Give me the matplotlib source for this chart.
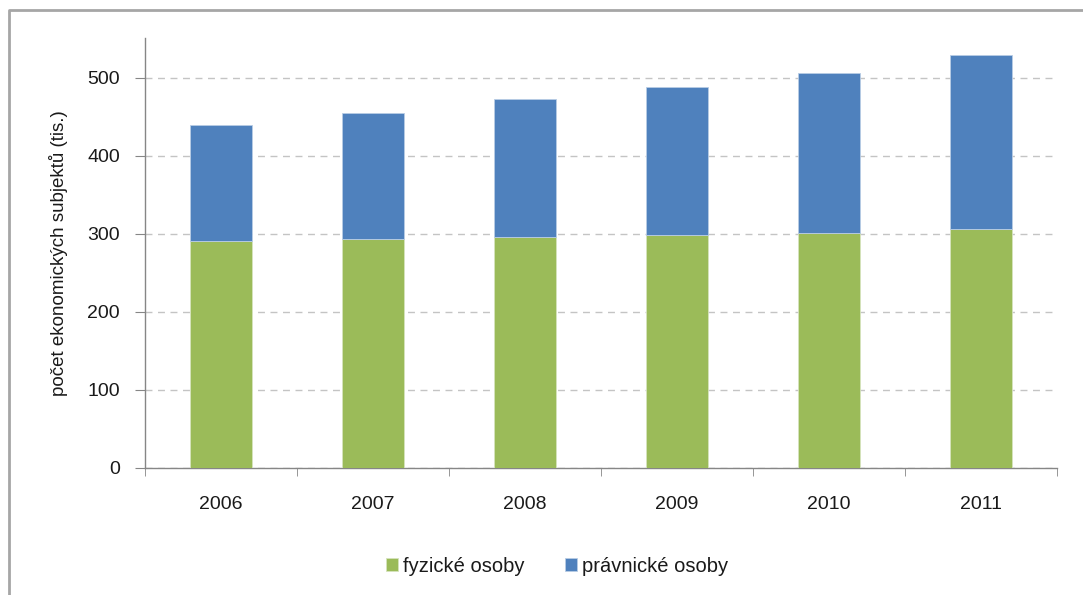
import matplotlib
matplotlib.use('Agg')
import matplotlib.pyplot as plt
from matplotlib.lines import Line2D
import numpy as np

plt.rcParams['font.family'] = ['Liberation Sans', 'DejaVu Sans']

# Values (thousands)
years = ['2006', '2007', '2008', '2009', '2010', '2011']
fyzicke = [290.6, 293.2, 295.8, 298.3, 300.9, 306.0]
pravnicke = [148.8, 161.9, 176.9, 189.7, 205.1, 223.5]

green = '#9BBB59'
blue = '#4F81BD'
axis_grey = '#868686'

fig = plt.figure(figsize=(10.83, 5.95), dpi=100)
ax = fig.add_axes([145 / 1083, 1 - 468 / 595, 912 / 1083, 430 / 595])

x = np.arange(len(years))
w = 0.41
ax.bar(x, fyzicke, width=w, color=green, edgecolor='#D6E4BD', linewidth=0.6,
       label='fyzické osoby', zorder=3)
ax.bar(x, pravnicke, width=w, bottom=fyzicke, color=blue, edgecolor='#B9CDE5',
       linewidth=0.6, label='právnické osoby', zorder=3)

ax.set_xlim(-0.5, len(years) - 0.5)
ax.set_ylim(0, 551)
ax.set_yticks([0, 100, 200, 300, 400, 500])
ax.yaxis.grid(True, linestyle=(0, (5, 4)), color='#C4C4C4', linewidth=1.0, zorder=0)

# category labels centered, ticks on category boundaries
ax.set_xticks(x)
ax.set_xticklabels(years)
ax.set_xticks(np.arange(-0.5, len(years)), minor=True)
ax.tick_params(axis='x', which='major', length=0, pad=20, labelsize=14, labelcolor='#1a1a1a')
ax.tick_params(axis='x', which='minor', length=6, color=axis_grey, direction='out')
ax.tick_params(axis='y', length=7, color=axis_grey, direction='out', pad=11, labelsize=14,
               labelcolor='#1a1a1a')

for side in ('top', 'right'):
    ax.spines[side].set_visible(False)
for side in ('left', 'bottom'):
    ax.spines[side].set_color(axis_grey)
    ax.spines[side].set_linewidth(1.0)

ax.set_ylabel('počet ekonomických subjektů (tis.)', fontsize=13.5, labelpad=14, color='#1a1a1a')

leg = fig.legend(loc='center', bbox_to_anchor=(557 / 1083, 1 - 566 / 595), ncol=2,
                 frameon=False, fontsize=14.5, handlelength=0.6, handleheight=0.6,
                 handletextpad=0.25, columnspacing=2.0)
for t in leg.get_texts():
    t.set_color('#1a1a1a')

# outer chart border (only left and top edges are visible in the crop)
fig.add_artist(Line2D([9 / 1083, 9 / 1083, 1.0], [0.0, 1 - 9.5 / 595, 1 - 9.5 / 595],
                      transform=fig.transFigure, color='#A6A6A6', linewidth=2.0))

fig.savefig('out.png', dpi=100)
